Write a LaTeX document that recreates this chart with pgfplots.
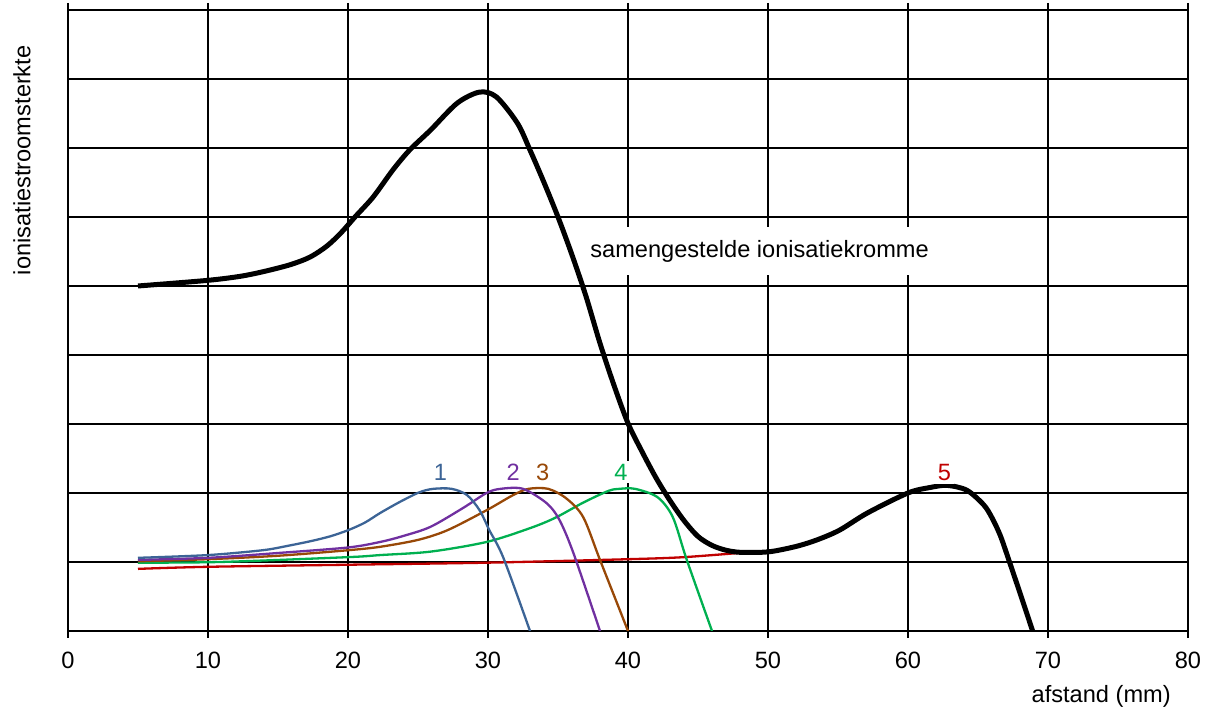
\documentclass[border=0pt]{standalone}
\usepackage{fontspec}
\setmainfont{Liberation Sans}
\usepackage{pgfplots}
\pgfplotsset{compat=1.18}

\definecolor{c1}{RGB}{60,100,150}
\definecolor{c2}{RGB}{112,48,160}
\definecolor{c3}{RGB}{152,72,7}
\definecolor{c4}{RGB}{0,176,80}
\definecolor{c5}{RGB}{192,0,0}

\begin{document}
\begin{tikzpicture}[font=\fontsize{11.8}{14}\selectfont]
\begin{axis}[
    name=ax,
    width=560pt, height=310.5pt,
    scale only axis,
    xmin=0, xmax=80, ymin=0, ymax=9,
    xtick={0,10,...,80},
    ytick={0,1,...,9},
    yticklabels={},
    grid=major,
    grid style={black, line width=1.25pt},
    axis line style={line width=1.25pt},
    tick style={black, line width=1.25pt},
    tick align=outside,
    major tick length=3.5pt,
    ytick style={draw=none},
    /pgf/number format/assume math mode=true,
    xticklabel style={inner sep=0pt, yshift=-7pt},
    xlabel={afstand (mm)},
    xlabel style={at={(rel axis cs:0.9225,0)}, anchor=north, inner sep=0pt, yshift=-27pt},
    ylabel={ionisatiestroomsterkte},
    ylabel style={at={(rel axis cs:0,0.758)}, anchor=center, yshift=23pt},
]
% 5 (red), the rest of it lies under the composite curve
\addplot[c5, line width=1.15pt, smooth] coordinates {
(5,0.90) (10,0.93) (20,0.96) (30,0.99) (40,1.04) (44,1.07) (48.5,1.14)
};
% 4 (green)
\addplot[c4, line width=1.15pt, smooth] coordinates {
(5,0.99) (10.9,1.0) (20,1.07) (22.3,1.10) (25.9,1.15) (29.9,1.29) (33,1.49)
(34.8,1.64) (36.8,1.86) (38.6,2.03) (39.4,2.06) (40.5,2.06) (42.1,1.94)
(43.2,1.65) (44.2,1.03) (46,0)
};
% 3 (brown)
\addplot[c3, line width=1.15pt, smooth] coordinates {
(5,1.01) (10,1.04) (15,1.09) (20,1.17) (22.3,1.22) (25,1.32) (27.1,1.46)
(29.9,1.75) (31.8,1.97) (32.9,2.06) (34.3,2.06) (35.6,1.92) (36.8,1.65)
(38,1.03) (40,0)
};
% 2 (purple)
\addplot[c2, line width=1.15pt, smooth] coordinates {
(5,1.03) (10,1.06) (15,1.13) (20,1.21) (22.3,1.29) (24,1.38) (25.9,1.51) (28.2,1.78)
(29.9,2.0) (30.9,2.06) (32.5,2.06) (34.2,1.85) (35.1,1.61) (36.1,1.13) (38,0)
};
% 1 (blue)
\addplot[c1, line width=1.15pt, smooth] coordinates {
(5,1.06) (10,1.10) (13.9,1.17) (15.6,1.23) (17.3,1.30) (18.7,1.37) (20,1.46)
(21.2,1.57) (22.3,1.71) (23.7,1.87) (25.1,2.01) (26.1,2.06) (27.4,2.06)
(28.5,1.97) (29.4,1.75) (30.1,1.46) (31.1,1.06) (33,0)
};
% samengestelde ionisatiekromme
\addplot[black, line width=2.5pt, smooth] coordinates {
(5,5.0) (9.9,5.08) (12.3,5.14) (14,5.21) (15.9,5.31) (17.3,5.42) (18.5,5.58)
(19.5,5.77) (20.5,6.0) (21.8,6.29) (23.2,6.68) (24.4,6.97) (25.9,7.26)
(27.8,7.65) (29.4,7.81) (30.6,7.74) (32.1,7.36) (33,6.97) (34,6.5) (35,6.0)
(36,5.45) (37,4.85) (38,4.17) (39,3.56) (40,3.01) (41,2.6) (42,2.22) (43,1.89)
(44,1.6) (45,1.37) (46,1.24) (47,1.17) (48,1.14) (49.5,1.14) (50.5,1.16)
(52.1,1.23) (53.5,1.32) (55.1,1.46) (57.1,1.71) (60,2.0) (61.6,2.08)
(62.8,2.11) (64.2,2.04) (65.4,1.83) (66,1.64) (66.6,1.38) (67.2,1.03)
(68,0.55) (68.9,0)
};
\node[fill=white, inner xsep=4pt, inner ysep=6.5pt] at (axis cs:49.4,5.5) {samengestelde ionisatiekromme};
\node[fill=white, text=c1, inner sep=1.5pt] at (axis cs:26.6,2.30) {1};
\node[fill=white, text=c2, inner sep=1.5pt] at (axis cs:31.8,2.30) {2};
\node[fill=white, text=c3, inner sep=1.5pt] at (axis cs:33.9,2.30) {3};
\node[fill=white, text=c4, inner sep=1.5pt] at (axis cs:39.5,2.30) {4};
\node[fill=white, text=c5, inner sep=1.5pt] at (axis cs:62.6,2.30) {5};
\end{axis}
\pgfresetboundingbox
\useasboundingbox ([shift={(-34pt,-39pt)}]ax.south west) rectangle ([shift={(11.5pt,5pt)}]ax.north east);
\end{tikzpicture}
\end{document}
